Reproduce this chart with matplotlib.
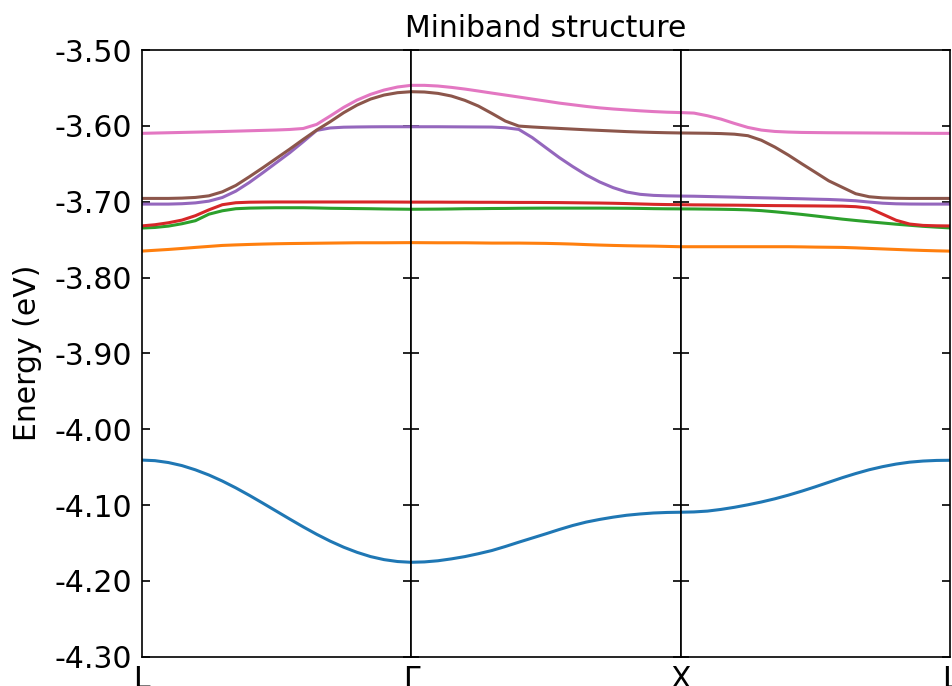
import numpy as np
import matplotlib
matplotlib.use("Agg")
import matplotlib.pyplot as plt
from matplotlib.ticker import FormatStrFormatter

plt.rcParams['axes.unicode_minus'] = False

# k-path L -> Gamma -> X -> L, 20 samples per segment
k = np.linspace(0, 3, 61)
segment_labels = [['L'], ['Γ'], ['X', 'L']]
yticks = [-4.30, -4.20, -4.10, -4.00, -3.90, -3.80, -3.70, -3.60, -3.50]

band1 = [-4.0407, -4.0415, -4.0440, -4.0480, -4.0536, -4.0604, -4.0684, -4.0774, -4.0872, -4.0975, -4.1080,
         -4.1185, -4.1288, -4.1386, -4.1476, -4.1556, -4.1624, -4.1680, -4.1720, -4.1745, -4.1755,
         -4.1750, -4.1735, -4.1710, -4.1680, -4.1642, -4.1600, -4.1547, -4.1490, -4.1435, -4.1380,
         -4.1323, -4.1270, -4.1225, -4.1190, -4.1160, -4.1135, -4.1118, -4.1105, -4.1098, -4.1095,
         -4.1091, -4.1080, -4.1058, -4.1030, -4.0997, -4.0960, -4.0918, -4.0870, -4.0817, -4.0760,
         -4.0700, -4.0640, -4.0585, -4.0535, -4.0494, -4.0460, -4.0435, -4.0420, -4.0412, -4.0410]
band2 = [-3.7652, -3.7641, -3.7630, -3.7617, -3.7603, -3.7590, -3.7577, -3.7570, -3.7564, -3.7559, -3.7555,
         -3.7552, -3.7550, -3.7548, -3.7546, -3.7544, -3.7542, -3.7542, -3.7542, -3.7541, -3.7540,
         -3.7541, -3.7542, -3.7542, -3.7542, -3.7544, -3.7546, -3.7546, -3.7546, -3.7548, -3.7550,
         -3.7554, -3.7559, -3.7566, -3.7572, -3.7577, -3.7581, -3.7584, -3.7586, -3.7590, -3.7594,
         -3.7594, -3.7594, -3.7594, -3.7594, -3.7594, -3.7594, -3.7594, -3.7594, -3.7596, -3.7599,
         -3.7601, -3.7603, -3.7609, -3.7616, -3.7623, -3.7630, -3.7637, -3.7643, -3.7648, -3.7652]
band3 = [-3.7348, -3.7340, -3.7322, -3.7291, -3.7251, -3.7165, -3.7120, -3.7093, -3.7085, -3.7082, -3.7080,
         -3.7080, -3.7080, -3.7083, -3.7087, -3.7089, -3.7091, -3.7093, -3.7096, -3.7098, -3.7100,
         -3.7099, -3.7098, -3.7096, -3.7093, -3.7092, -3.7090, -3.7089, -3.7087, -3.7086, -3.7085,
         -3.7085, -3.7085, -3.7085, -3.7085, -3.7086, -3.7087, -3.7089, -3.7092, -3.7094, -3.7095,
         -3.7096, -3.7098, -3.7100, -3.7103, -3.7108, -3.7118, -3.7133, -3.7150, -3.7168, -3.7188,
         -3.7209, -3.7230, -3.7248, -3.7265, -3.7281, -3.7297, -3.7311, -3.7325, -3.7336, -3.7346]
band4 = [-3.7320, -3.7304, -3.7278, -3.7243, -3.7185, -3.7108, -3.7040, -3.7014, -3.7007, -3.7005, -3.7004,
         -3.7004, -3.7004, -3.7004, -3.7004, -3.7004, -3.7004, -3.7004, -3.7004, -3.7005, -3.7006,
         -3.7006, -3.7006, -3.7007, -3.7007, -3.7008, -3.7008, -3.7009, -3.7010, -3.7010, -3.7011,
         -3.7012, -3.7014, -3.7016, -3.7018, -3.7021, -3.7025, -3.7030, -3.7035, -3.7038, -3.7040,
         -3.7042, -3.7043, -3.7045, -3.7046, -3.7048, -3.7050, -3.7052, -3.7053, -3.7055, -3.7056,
         -3.7058, -3.7059, -3.7066, -3.7085, -3.7165, -3.7245, -3.7295, -3.7313, -3.7318, -3.7320]
band5 = [-3.7032, -3.7032, -3.7032, -3.7027, -3.7016, -3.6993, -3.6945, -3.6861, -3.6747, -3.6619, -3.6487,
         -3.6355, -3.6210, -3.6060, -3.6028, -3.6018, -3.6015, -3.6013, -3.6012, -3.6012, -3.6012,
         -3.6012, -3.6012, -3.6013, -3.6014, -3.6015, -3.6016, -3.6025, -3.6047, -3.6155, -3.6287,
         -3.6418, -3.6537, -3.6647, -3.6740, -3.6815, -3.6872, -3.6903, -3.6917, -3.6923, -3.6926,
         -3.6928, -3.6932, -3.6936, -3.6940, -3.6945, -3.6949, -3.6953, -3.6958, -3.6962, -3.6967,
         -3.6971, -3.6978, -3.6988, -3.7005, -3.7020, -3.7028, -3.7031, -3.7032, -3.7032, -3.7032]
band6 = [-3.6957, -3.6957, -3.6957, -3.6953, -3.6944, -3.6923, -3.6870, -3.6786, -3.6672, -3.6553, -3.6430,
         -3.6307, -3.6179, -3.6056, -3.5946, -3.5827, -3.5726, -3.5647, -3.5594, -3.5563, -3.5550,
         -3.5554, -3.5572, -3.5607, -3.5664, -3.5739, -3.5836, -3.5937, -3.6003, -3.6015, -3.6025,
         -3.6034, -3.6043, -3.6052, -3.6060, -3.6068, -3.6076, -3.6082, -3.6087, -3.6091, -3.6094,
         -3.6096, -3.6098, -3.6102, -3.6110, -3.6130, -3.6190, -3.6280, -3.6385, -3.6500, -3.6612,
         -3.6725, -3.6810, -3.6895, -3.6935, -3.6950, -3.6955, -3.6957, -3.6957, -3.6957, -3.6957]
band7 = [-3.6099, -3.6095, -3.6091, -3.6087, -3.6083, -3.6079, -3.6075, -3.6070, -3.6065, -3.6060, -3.6055,
         -3.6048, -3.6035, -3.5981, -3.5871, -3.5757, -3.5660, -3.5585, -3.5528, -3.5488, -3.5466,
         -3.5466, -3.5475, -3.5493, -3.5515, -3.5541, -3.5568, -3.5594, -3.5620, -3.5647, -3.5673,
         -3.5700, -3.5722, -3.5744, -3.5763, -3.5778, -3.5790, -3.5802, -3.5812, -3.5820, -3.5825,
         -3.5832, -3.5867, -3.5911, -3.5968, -3.6021, -3.6056, -3.6074, -3.6082, -3.6087, -3.6089,
         -3.6091, -3.6092, -3.6093, -3.6094, -3.6095, -3.6096, -3.6097, -3.6098, -3.6099, -3.6099]

bands = [band1, band2, band3, band4, band5, band6, band7]
colors = ['C0', 'C1', 'C2', 'C3', 'C4', 'C5', 'C6']

W, H = 952, 686
fig = plt.figure(figsize=(W / 100, H / 100), dpi=100)

x0, x1 = 141.5, 950.0
y_top, y_bot = 50.0, 656.7
seg_w = (x1 - x0) / 3

axes = []
for i in range(3):
    ax = fig.add_axes([(x0 + i * seg_w) / W, (H - y_bot) / H, seg_w / W, (y_bot - y_top) / H])
    axes.append(ax)
    sl = slice(20 * i, 20 * i + 21)
    for band, c in zip(bands, colors):
        ax.plot(k[sl] - i, np.array(band)[sl], color=c, lw=2.2)
    ax.set_xlim(0, 1)
    ax.set_ylim(-4.30, -3.50)
    ax.set_yticks(yticks)
    ax.yaxis.set_major_formatter(FormatStrFormatter('%.2f'))
    ax.tick_params(axis='y', direction='in', left=True, right=True, length=5.5, width=1.2,
                   labelsize=21.5, pad=7, labelleft=(i == 0))
    ticks = [0] if len(segment_labels[i]) == 1 else [0, 1]
    ax.set_xticks(ticks)
    ax.set_xticklabels(segment_labels[i])
    ax.tick_params(axis='x', length=0, labelsize=21.5, pad=6)
    for sp in ax.spines.values():
        sp.set_linewidth(1.2)

axes[1].set_title('Miniband structure', fontsize=21.5, pad=9.5)
fig.text(28 / W, 1 - 353 / H, 'Energy (eV)', rotation=90, fontsize=21.5, ha='center', va='center')

fig.savefig('out.png', dpi=100)
